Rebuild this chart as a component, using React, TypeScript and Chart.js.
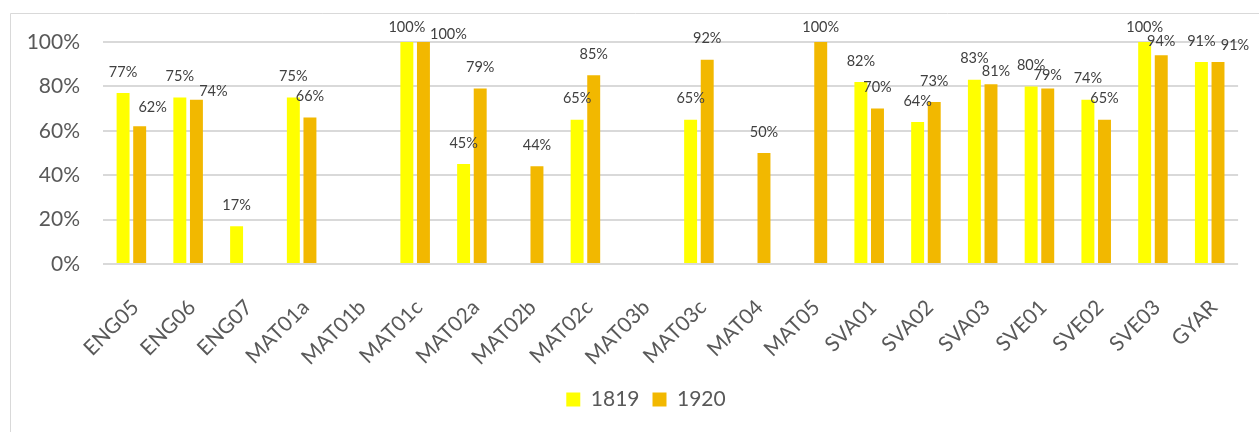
import React, { useEffect, useRef } from "react";
import { Chart, registerables } from "chart.js";

Chart.register(...registerables);

const categories = [
  "ENG05", "ENG06", "ENG07", "MAT01a", "MAT01b", "MAT01c", "MAT02a", "MAT02b", "MAT02c", "MAT03b",
  "MAT03c", "MAT04", "MAT05", "SVA01", "SVA02", "SVA03", "SVE01", "SVE02", "SVE03", "GYAR",
];

const series1819: (number | null)[] = [
  77, 75, 17, 75, null, 100, 45, null, 65, null,
  65, null, null, 82, 64, 83, 80, 74, 100, 91,
];

const series1920: (number | null)[] = [
  62, 74, null, 66, null, 100, 79, 44, 85, null,
  92, 50, 100, 70, 73, 81, 79, 65, 94, 91,
];

const seriesNames = ["1819", "1920"];
const yTicks = [0, 20, 40, 60, 80, 100];

// label placement tweaks (dx, dy from bar top) for labels moved to avoid overlaps
const defaultLabelOffset: [number, number] = [0, -21];
const labelNudges: Record<string, [number, number]> = {
  "0:5": [0, -15],
  "0:18": [0, -15],
  "1:0": [13, -19],
  "1:1": [17, -8],
  "1:5": [25, -8],
  "1:12": [0, -15],
  "1:15": [5, -13],
  "1:16": [0, -13],
  "1:18": [0, -14],
  "1:19": [17, -17],
};

const FONT = "Lato, 'Open Sans', sans-serif";

const valueLabels = {
  id: "valueLabels",
  afterDatasetsDraw(chart: any) {
    const ctx = chart.ctx;
    ctx.save();
    ctx.font = `14.5px ${FONT}`;
    ctx.fillStyle = "#404040";
    ctx.textAlign = "center";
    ctx.textBaseline = "middle";
    chart.data.datasets.forEach((ds: any, di: number) => {
      const meta = chart.getDatasetMeta(di);
      meta.data.forEach((bar: any, i: number) => {
        const v = ds.data[i];
        if (v == null) return;
        const [dx, dy] = labelNudges[`${di}:${i}`] ?? defaultLabelOffset;
        ctx.fillText(`${v}%`, bar.x + dx, bar.y + dy);
      });
    });
    ctx.restore();
  },
};

const frame = {
  id: "frame",
  afterLayout(chart: any) {
    // the legend is centred on the whole chart frame, which extends past the right edge
    if (chart.legend) chart.legend.left += 52;
  },
  beforeDraw(chart: any) {
    const ctx = chart.ctx;
    ctx.save();
    ctx.fillStyle = "#ffffff";
    ctx.fillRect(0, 0, chart.width, chart.height);
    ctx.strokeStyle = "#d9d9d9";
    ctx.lineWidth = 1;
    ctx.beginPath();
    ctx.moveTo(10.5, chart.height + 5);
    ctx.lineTo(10.5, 13.5);
    ctx.lineTo(chart.width + 5, 13.5);
    ctx.stroke();
    ctx.restore();
  },
};

export default function App() {
  const ref = useRef<HTMLCanvasElement | null>(null);

  useEffect(() => {
    document.body.style.margin = "0";
    if (!ref.current) return;
    const chart = new Chart(ref.current, {
      type: "bar",
      data: {
        labels: categories,
        datasets: [
          {
            label: seriesNames[0],
            data: series1819,
            backgroundColor: "#FFFF00",
            categoryPercentage: 0.585,
            barPercentage: 0.78,
          },
          {
            label: seriesNames[1],
            data: series1920,
            backgroundColor: "#F2B800",
            categoryPercentage: 0.585,
            barPercentage: 0.78,
          },
        ],
      },
      options: {
        responsive: false,
        animation: false,
        layout: { padding: { left: 0, right: 19, top: 42, bottom: 12 } },
        plugins: {
          legend: {
            position: "bottom",
            labels: {
              boxWidth: 14,
              boxHeight: 14,
              padding: 13,
              color: "#595959",
              font: { family: FONT, size: 21 },
            },
          },
          tooltip: { enabled: false },
        },
        scales: {
          x: {
            offset: true,
            grid: { display: false, drawTicks: false },
            border: { display: false },
            ticks: {
              color: "#595959",
              font: { family: FONT, size: 21 },
              minRotation: 45,
              maxRotation: 45,
              autoSkip: false,
              padding: 31,
              labelOffset: 4,
            },
            afterFit(scale: any) {
              scale.height = 112;
            },
          },
          y: {
            min: 0,
            max: 100,
            afterBuildTicks(scale: any) {
              scale.ticks = yTicks.map((v) => ({ value: v }));
            },
            grid: { color: "#d9d9d9", lineWidth: 2, drawTicks: false },
            border: { display: false },
            ticks: {
              color: "#595959",
              font: { family: FONT, size: 21 },
              padding: 23,
              callback: (v: any) => `${v}%`,
            },
            afterFit(scale: any) {
              scale.width = 103;
            },
          },
        },
      },
      plugins: [frame, valueLabels],
    });
    return () => chart.destroy();
  }, []);

  return (
    <div style={{ position: "absolute", left: 0, top: 0, width: 1259, height: 432 }}>
      <canvas ref={ref} width={1259} height={432} style={{ display: "block" }} />
    </div>
  );
}
